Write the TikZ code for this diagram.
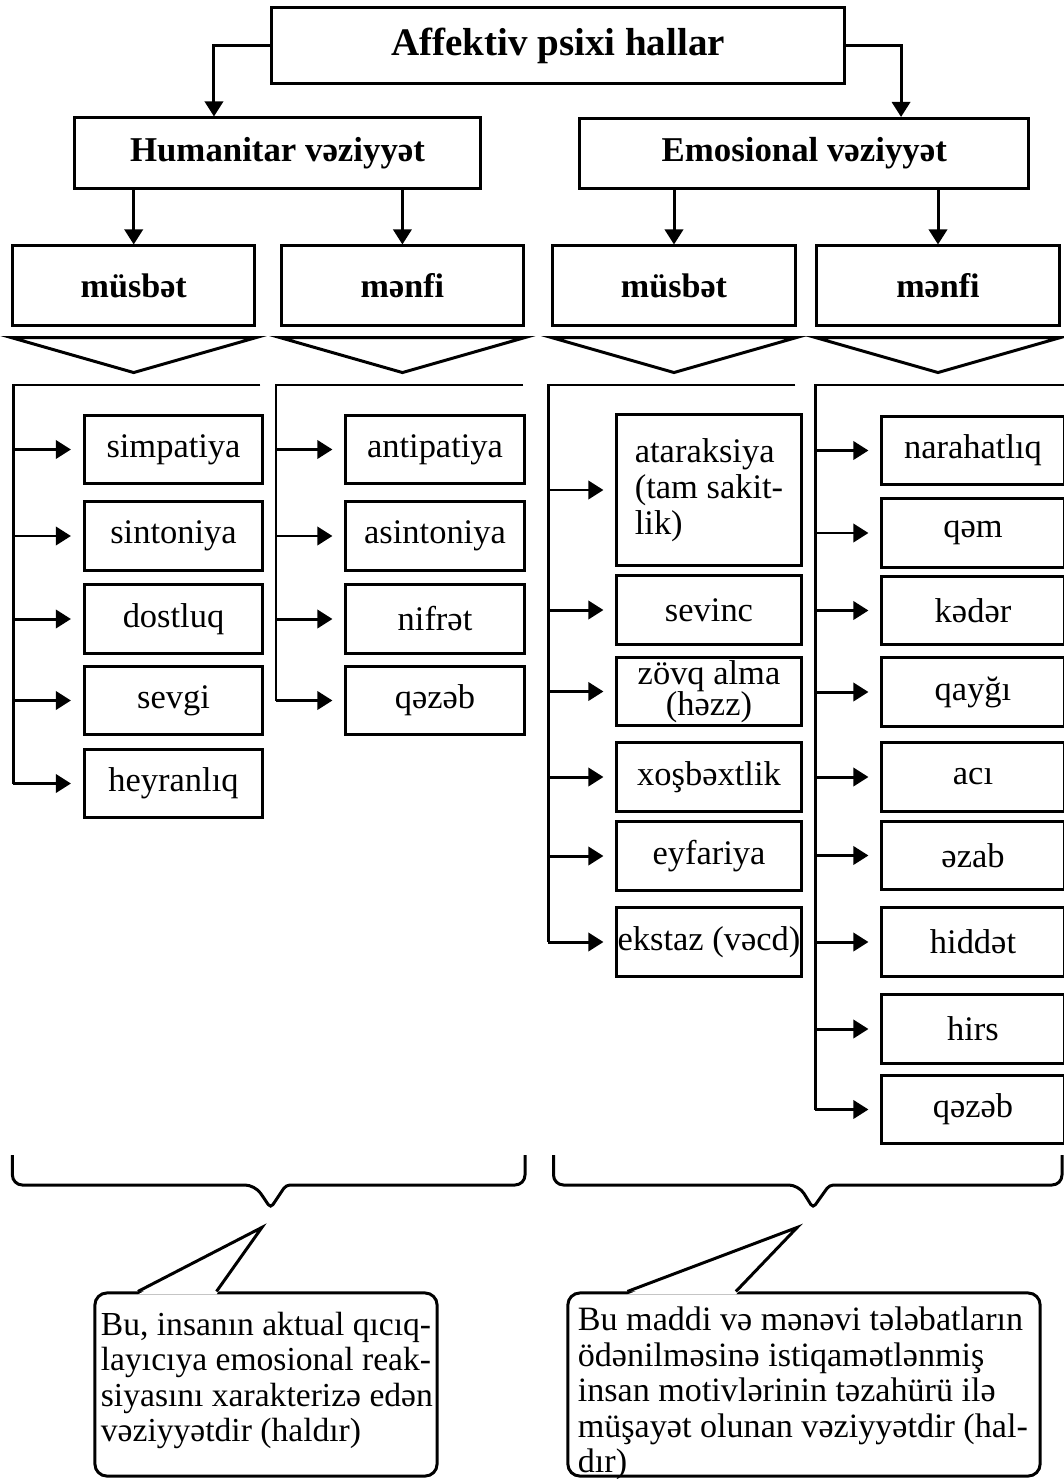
\documentclass[tikz,border=0pt]{standalone}
\usepackage{fontspec}
\setmainfont{Liberation Serif}
\usetikzlibrary{arrows.meta,positioning}

\begin{document}
\begin{tikzpicture}[
  x=0.01cm, y=-0.01cm,
  line width=0.85pt,
  box/.style={draw, inner sep=0pt, align=center},
  title/.style={box, minimum width=5.72cm, minimum height=0.75cm, font=\bfseries\fontsize{11.1}{13}\selectfont},
  group/.style={box, minimum height=0.7cm, font=\bfseries\fontsize{9.9}{12}\selectfont},
  sign/.style={box, minimum width=2.42cm, minimum height=0.79cm, font=\bfseries\fontsize{9.7}{12}\selectfont},
  item/.style={box, minimum height=0.68cm, font=\fontsize{9.8}{8.9}\selectfont},
  note/.style={draw, rounded corners=0.12cm, minimum height=1.83cm},
  notetext/.style={inner sep=0pt, align=left, anchor=north west, font=\fontsize{9.7}{10.1}\selectfont},
  arr/.style={-{Triangle[length=4.3pt, width=5.2pt]}},
  tick/.style={arr, shorten >=0.12cm}
]
\useasboundingbox (0,0) rectangle (1064,1479);

\node[title] (top) at (558,45.5) {Affektiv psixi hallar};
\node[group, minimum width=4.06cm] (hum) at (277.5,153) {Humanitar vəziyyət};
\node[group, minimum width=4.49cm] (emo) at (804.3,153.5) {Emosional vəziyyət};
\node[sign] (hpos) at (133.7,285.5) {müsbət};
\node[sign] (hneg) at (402.4,285.5) {mənfi};
\node[sign] (epos) at (674,285.5) {müsbət};
\node[sign] (eneg) at (938,285.5) {mənfi};

\draw[arr] (top.west) -| ([xshift=-0.635cm]hum.north);
\draw[arr] (top.east) -| ([xshift=0.967cm]emo.north);
\foreach \a/\b in {hum/hpos, hum/hneg, emo/epos, emo/eneg}
  \draw[arr] (\a.south -| \b.north) -- (\b.north);

\foreach \b in {hpos,hneg,epos,eneg}
  \draw ([yshift=-0.11cm]\b.south west) -- ([yshift=-0.11cm]\b.south east)
    -- ([yshift=-0.46cm]\b.south) -- cycle;

% humanitar: musbet / menfi
\foreach \n/\y/\t in {simp/449.5/simpatiya, sint/536/sintoniya, dost/619/dostluq,
    sevg/700.5/sevgi, heyr/783.5/heyranlıq}
  \node[item, minimum width=1.78cm] (\n) at (173.5,\y) {\t};
\foreach \n/\y/\t in {anti/449.5/antipatiya, asin/536/asintoniya, nifr/619/nifrət,
    qzbh/700.5/qəzəb}
  \node[item, minimum width=1.78cm] (\n) at (435,\y) {\t};

% emosional: musbet / menfi
\node[item, minimum width=1.84cm, minimum height=1.5cm, align=left,
  font=\fontsize{9.8}{10.2}\selectfont] (atar) at (709,490) {ataraksiya\\(tam sakit-\\lik)};
\foreach \n/\y/\t in {sevi/610/sevinc, zovq/691.5/{zövq alma\\(həzz)}, xosb/777/xoşbəxtlik,
    eyfa/856/eyfariya, ekst/942/ekstaz (vəcd)}
  \node[item, minimum width=1.84cm] (\n) at (709,\y) {\t};
\foreach \n/\y/\t in {nara/450.5/narahatlıq, qem/533/qəm, kede/610.5/kədər, qayg/692/qayğı,
    aci/777/acı, ezab/855.5/əzab, hidd/942/hiddət, hirs/1029/hirs, qzbe/1109.5/qəzəb}
  \node[item, minimum width=1.82cm] (\n) at (973,\y) {\t};

\coordinate (hposbus) at (13.4,385);
\coordinate (hnegbus) at (276,385);
\coordinate (eposbus) at (548.4,385);
\coordinate (enegbus) at (815,385);

\draw (hposbus) ++(247,0) -- (hposbus) -- (hposbus |- heyr.west);
\draw (hnegbus) ++(247,0) -- (hnegbus) -- (hnegbus |- qzbh.west);
\draw (eposbus) ++(247,0) -- (eposbus) -- (eposbus |- ekst.west);
\draw (enegbus) ++(249,0) -- (enegbus) -- (enegbus |- qzbe.west);

\foreach \b in {simp,sint,dost,sevg,heyr}
  \draw[tick] (hposbus |- \b.west) -- (\b.west);
\foreach \b in {anti,asin,nifr,qzbh}
  \draw[tick] (hnegbus |- \b.west) -- (\b.west);
\foreach \b in {atar,sevi,zovq,xosb,eyfa,ekst}
  \draw[tick] (eposbus |- \b.west) -- (\b.west);
\foreach \b in {nara,qem,kede,qayg,aci,ezab,hidd,hirs,qzbe}
  \draw[tick] (enegbus |- \b.west) -- (\b.west);

% braces
\draw[rounded corners=0.1cm] (12.4,1155) -- (12.4,1185) -- (255,1185) [rounded corners=0.04cm]
  -- (270.6,1208) -- (286,1185) [rounded corners=0.1cm] -- (525,1185) -- (525,1155);
\draw[rounded corners=0.1cm] (553.5,1155) -- (553.5,1185) -- (798.7,1185) [rounded corners=0.04cm]
  -- (813,1208) -- (829.4,1185) [rounded corners=0.1cm] -- (1062,1185) -- (1062,1155);

% callouts
\node[note, minimum width=3.42cm] (lnote) at (266,1384.5) {};
\node[note, minimum width=4.72cm] (rnote) at (804,1384.5) {};
\node[notetext, font=\fontsize{9.55}{10.1}\selectfont] (ltext) at ([xshift=0.06cm,yshift=-0.19cm]lnote.north west)
  {Bu, insanın aktual qıcıq-\\layıcıya emosional reak-\\siyasını xarakterizə edən\\vəziyyətdir (haldır)};
\node[notetext] (rtext) at ([xshift=0.1cm,yshift=-0.14cm]rnote.north west)
  {Bu maddi və mənəvi tələbatların\\ödənilməsinə istiqamətlənmiş\\insan motivlərinin təzahürü ilə\\müşayət olunan vəziyyətdir (hal-\\dır)};

\fill[white] ([xshift=0.445cm,yshift=-0.03cm]lnote.north west) -- ([xshift=1.684cm,yshift=0.64cm]lnote.north west)
  -- ([xshift=1.23cm,yshift=-0.03cm]lnote.north west) -- cycle;
\draw ([xshift=0.445cm]lnote.north west) -- ([xshift=1.684cm,yshift=0.64cm]lnote.north west)
  -- ([xshift=1.23cm]lnote.north west);
\fill[white] ([xshift=0.61cm,yshift=-0.03cm]rnote.north west) -- ([xshift=2.307cm,yshift=0.64cm]rnote.north west)
  -- ([xshift=1.694cm,yshift=-0.03cm]rnote.north west) -- cycle;
\draw ([xshift=0.61cm]rnote.north west) -- ([xshift=2.307cm,yshift=0.64cm]rnote.north west)
  -- ([xshift=1.694cm]rnote.north west);
\end{tikzpicture}
\end{document}
